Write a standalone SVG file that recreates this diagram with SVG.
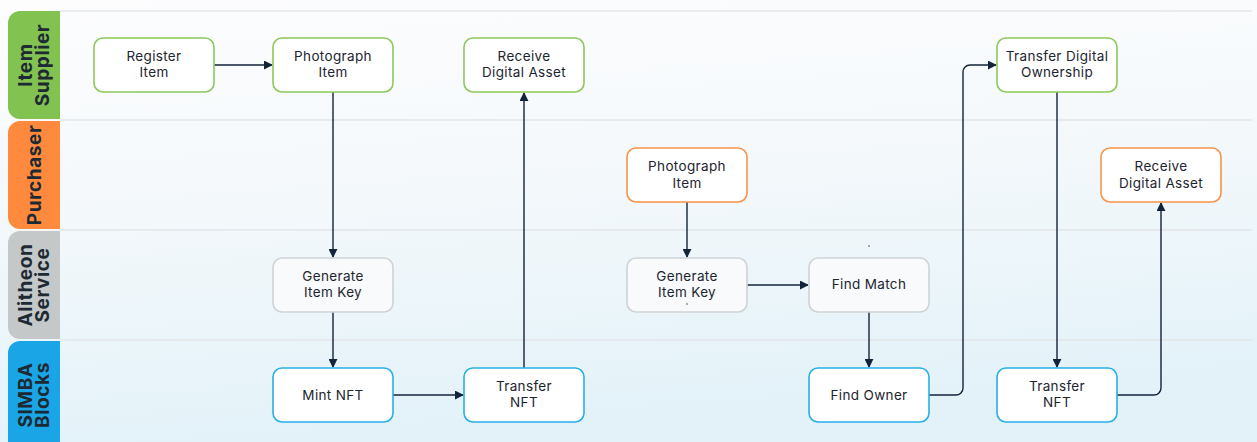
<svg xmlns="http://www.w3.org/2000/svg" width="1257" height="442" viewBox="0 0 1257 442">
<defs>
<linearGradient id="bg" x1="0" y1="0" x2="0.2" y2="1">
<stop offset="0" stop-color="#fdfdfe"/>
<stop offset="0.5" stop-color="#f3f8fb"/>
<stop offset="1" stop-color="#e3f2f9"/>
</linearGradient>
<marker id="ah" viewBox="0 0 10 10" refX="9" refY="5" markerWidth="9" markerHeight="9" markerUnits="userSpaceOnUse" orient="auto">
<path d="M0,0 L10,5 L0,10 z" fill="#13233a"/>
</marker>
<style>
.node rect{stroke-width:1.6}
.g rect{fill:#ffffff;stroke:#8cc85a}
.o rect{fill:#ffffff;stroke:#f7934a}
.s rect{fill:#f8fafb;stroke:#cfd3d5}
.b rect{fill:#ffffff;stroke:#29aee6}
.node text{font-family:Inter,"Noto Sans",sans-serif;font-size:13.5px;letter-spacing:0.35px;fill:#1d2530;text-anchor:middle}
.lane text{font-family:Inter,"Noto Sans",sans-serif;font-size:19px;letter-spacing:0.6px;font-weight:700;fill:#1e2a33;text-anchor:middle}
.sep{stroke:#e3e6e8;stroke-width:1.5}
.conn path{fill:none;stroke:#13233a;stroke-width:1.4;marker-end:url(#ah)}
</style>
</defs>
<rect width="1257" height="442" fill="url(#bg)"/>
<g id="separators">
<line class="sep" x1="60" y1="11" x2="1252" y2="11"/>
<line class="sep" x1="60" y1="120" x2="1252" y2="120"/>
<line class="sep" x1="60" y1="230" x2="1252" y2="230"/>
<line class="sep" x1="60" y1="340" x2="1252" y2="340"/>
</g>
<g id="lane-item-supplier" class="lane">
<path d="M20,11 H60 V119 H20 A12,12 0 0 1 8,107 V23 A12,12 0 0 1 20,11 Z" fill="#82c250"/>
<g transform="translate(34,65) rotate(-90)"><text x="0" y="-2">Item</text><text x="0" y="15">Supplier</text></g>
</g>
<g id="lane-purchaser" class="lane">
<path d="M20,121 H60 V229 H20 A12,12 0 0 1 8,217 V133 A12,12 0 0 1 20,121 Z" fill="#ff8a3d"/>
<g transform="translate(34,175) rotate(-90)"><text x="0" y="7">Purchaser</text></g>
</g>
<g id="lane-alitheon" class="lane">
<path d="M20,231 H60 V339 H20 A12,12 0 0 1 8,327 V243 A12,12 0 0 1 20,231 Z" fill="#c4c8c9"/>
<g transform="translate(34,285) rotate(-90)"><text x="0" y="-2">Alitheon</text><text x="0" y="15">Service</text></g>
</g>
<g id="lane-simba" class="lane">
<path d="M20,341 H60 V442 H8 V353 A12,12 0 0 1 20,341 Z" fill="#1aa6e6"/>
<g transform="translate(34,395) rotate(-90)"><text x="0" y="-2">SIMBA</text><text x="0" y="15">Blocks</text></g>
</g>

<g id="connectors" class="conn">
<path d="M214,65 H272"/>
<path d="M333,92 V257"/>
<path d="M333,312 V367"/>
<path d="M393,395 H463"/>
<path d="M524,368 V93"/>
<path d="M687,202 V257"/>
<path d="M747,285 H808"/>
<path d="M869,312 V367"/>
<path d="M929,395 H956 A7,7 0 0 0 963,388 V72 A7,7 0 0 1 970,65 H996"/>
<path d="M1057,92 V367"/>
<path d="M1117,395 H1154 A7,7 0 0 0 1161,388 V203"/>
</g>

<g id="n-register" class="node g"><rect x="94" y="38" width="120" height="54" rx="9"/><text x="154" y="61">Register</text><text x="154" y="77">Item</text></g>
<g id="n-photo1" class="node g"><rect x="273" y="38" width="120" height="54" rx="9"/><text x="333" y="61">Photograph</text><text x="333" y="77">Item</text></g>
<g id="n-receive1" class="node g"><rect x="464" y="38" width="120" height="54" rx="9"/><text x="524" y="61">Receive</text><text x="524" y="77">Digital Asset</text></g>
<g id="n-transfer-own" class="node g"><rect x="997" y="38" width="120" height="54" rx="9"/><text x="1057" y="61">Transfer Digital</text><text x="1057" y="77">Ownership</text></g>
<g id="n-photo2" class="node o"><rect x="627" y="148" width="120" height="54" rx="9"/><text x="687" y="171">Photograph</text><text x="687" y="188">Item</text></g>
<g id="n-receive2" class="node o"><rect x="1101" y="148" width="120" height="54" rx="9"/><text x="1161" y="171">Receive</text><text x="1161" y="188">Digital Asset</text></g>
<g id="n-genkey1" class="node s"><rect x="273" y="258" width="120" height="54" rx="9"/><text x="333" y="281">Generate</text><text x="333" y="297">Item Key</text></g>
<g id="n-genkey2" class="node s"><rect x="627" y="258" width="120" height="54" rx="9"/><text x="687" y="281">Generate</text><text x="687" y="297">Item Key</text><circle cx="687" cy="304" r="0.7" fill="#1d2530"/></g>
<g id="n-findmatch" class="node s"><rect x="809" y="258" width="120" height="54" rx="9"/><text x="869" y="289">Find Match</text></g>
<circle cx="869" cy="246" r="0.7" fill="#1d2530"/>
<g id="n-mint" class="node b"><rect x="273" y="368" width="120" height="54" rx="9"/><text x="333" y="400">Mint NFT</text></g>
<g id="n-transfer1" class="node b"><rect x="464" y="368" width="120" height="54" rx="9"/><text x="524" y="391">Transfer</text><text x="524" y="407">NFT</text></g>
<g id="n-findowner" class="node b"><rect x="809" y="368" width="120" height="54" rx="9"/><text x="869" y="400">Find Owner</text></g>
<g id="n-transfer2" class="node b"><rect x="997" y="368" width="120" height="54" rx="9"/><text x="1057" y="391">Transfer</text><text x="1057" y="407">NFT</text></g>
</svg>
